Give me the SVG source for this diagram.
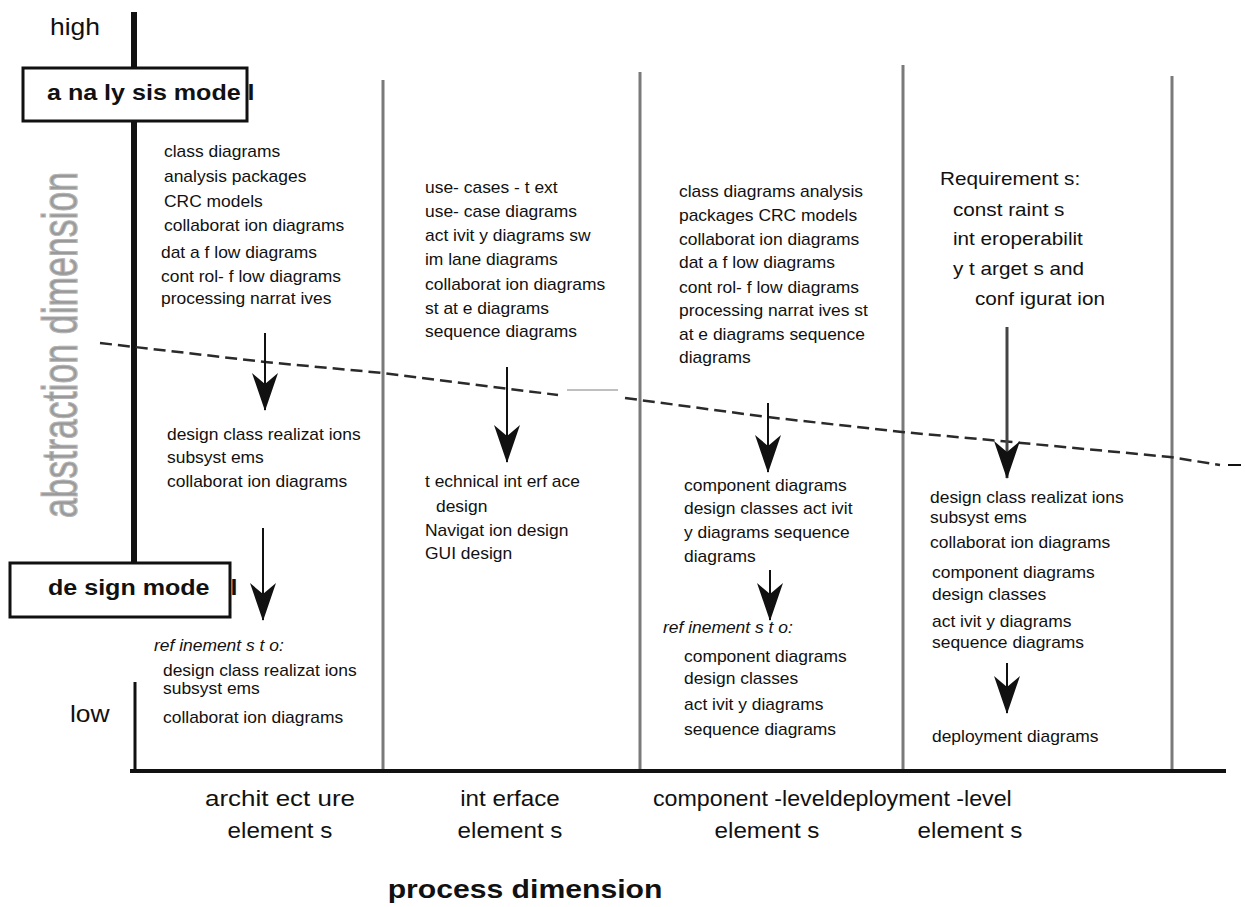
<svg xmlns="http://www.w3.org/2000/svg" width="1245" height="907" viewBox="0 0 1245 907">
<style>
  text { font-family: "Liberation Sans", Arial, sans-serif; fill: #111; }
  .sx { transform-box: fill-box; transform-origin: left center; transform: scaleX(1.09); }
  .cx { transform-box: fill-box; transform-origin: center; transform: scaleX(1.1); }
  .b { font-size: 16px; }
  .i { font-size: 16px; font-style: italic; }
  .r { font-size: 18px; transform-box: fill-box; transform-origin: left center; transform: scaleX(1.15); }
  .h { font-size: 22px; font-weight: bold; transform-box: fill-box; transform-origin: left center; transform: scaleX(1.14); }
  .lab { font-size: 22px; text-anchor: middle; }
  .ax { font-size: 23px; transform-box: fill-box; transform-origin: left center; transform: scaleX(1.15); }
  .col { stroke: #7a7a7a; stroke-width: 3; fill: none; }
  .box { fill: #fff; stroke: #111; stroke-width: 3; }
  .shaft { stroke: #111; stroke-width: 2; fill: none; marker-end: url(#ah); }
</style>
<defs>
  <marker id="ah" markerUnits="userSpaceOnUse" markerWidth="38" markerHeight="26" viewBox="0 0 38 26" refX="37" refY="13" orient="auto">
    <path d="M0,0 L38,13 L0,26 L11,13 Z" fill="#111"/>
  </marker>
</defs>
<rect width="1245" height="907" fill="#fff"/>

<g id="grid">
  <line class="col" x1="383" y1="80" x2="383" y2="771"/>
  <line class="col" x1="640" y1="72" x2="640" y2="771"/>
  <line class="col" x1="903" y1="65" x2="903" y2="771"/>
  <line class="col" x1="1172" y1="76" x2="1172" y2="771"/>
  <line x1="130" y1="771" x2="1226" y2="771" stroke="#111" stroke-width="4"/>
  <line x1="134" y1="12" x2="134" y2="567" stroke="#111" stroke-width="6"/>
  <line x1="135" y1="682" x2="135" y2="771" stroke="#111" stroke-width="3"/>
</g>

<g id="boundary">
  <path d="M100,343 L265,362 L383,373 L558,395 M625,398 L767,417 L902,432 L990,440 L1170,457 L1220,465" fill="none" stroke="#2a2a2a" stroke-width="2.5" stroke-dasharray="12 6"/>
  <line x1="567" y1="390" x2="618" y2="390" stroke="#aaa" stroke-width="1.5"/>
  <line x1="1228" y1="465" x2="1241" y2="465" stroke="#111" stroke-width="2"/>
</g>

<g id="axis-labels">
  <text class="ax" x="50" y="35">high</text>
  <text class="ax" x="70" y="722">low</text>
  <text transform="translate(77,518) rotate(-90)" font-size="50" style="fill:#999;stroke:#b5b5b5;stroke-width:1.2" textLength="346" lengthAdjust="spacingAndGlyphs">abstraction dimension</text>
  <text x="525" y="898" font-size="26" font-weight="bold" text-anchor="middle" style="transform-box:fill-box;transform-origin:center;transform:scaleX(1.16)">process dimension</text>
</g>

<g id="analysis-model">
  <rect class="box" x="23" y="68" width="224" height="53"/>
  <text class="h" x="47" y="100">a na ly sis mode l</text>
</g>

<g id="design-model">
  <rect class="box" x="10" y="563" width="220" height="54"/>
  <text class="h" x="48" y="595">de sign mode <tspan x="208">l</tspan></text>
</g>

<g id="architecture-column">
  <text class="b sx" x="164" y="157">class diagrams</text>
  <text class="b sx" x="164" y="182">analysis packages</text>
  <text class="b sx" x="164" y="207">CRC models</text>
  <text class="b sx" x="164" y="231">collaborat ion diagrams</text>
  <text class="b sx" x="161" y="258">dat a f low diagrams</text>
  <text class="b sx" x="161" y="282">cont rol- f low diagrams</text>
  <text class="b sx" x="161" y="304">processing narrat ives</text>
  <text class="b sx" x="167" y="440">design class realizat ions</text>
  <text class="b sx" x="167" y="463">subsyst ems</text>
  <text class="b sx" x="167" y="487">collaborat ion diagrams</text>
  <text class="i sx" x="154" y="651">ref inement s t o:</text>
  <text class="b sx" x="163" y="676">design class realizat ions</text>
  <text class="b sx" x="163" y="694">subsyst ems</text>
  <text class="b sx" x="163" y="723">collaborat ion diagrams</text>
  <text class="lab cx" x="280" y="806" style="transform:scaleX(1.18)">archit ect ure</text>
  <text class="lab cx" x="280" y="838">element s</text>
</g>

<g id="interface-column">
  <text class="b sx" x="425" y="193">use- cases - t ext</text>
  <text class="b sx" x="425" y="217">use- case diagrams</text>
  <text class="b sx" x="425" y="241">act ivit y diagrams sw</text>
  <text class="b sx" x="425" y="265">im lane diagrams</text>
  <text class="b sx" x="425" y="290">collaborat ion diagrams</text>
  <text class="b sx" x="425" y="314">st at e diagrams</text>
  <text class="b sx" x="425" y="337">sequence diagrams</text>
  <text class="b sx" x="425" y="487">t echnical int erf ace</text>
  <text class="b sx" x="436" y="512">design</text>
  <text class="b sx" x="425" y="536">Navigat ion design</text>
  <text class="b sx" x="425" y="559">GUI design</text>
  <text class="lab cx" x="510" y="806">int erface</text>
  <text class="lab cx" x="510" y="838">element s</text>
</g>

<g id="component-column">
  <text class="b sx" x="679" y="197">class diagrams analysis</text>
  <text class="b sx" x="679" y="221">packages CRC models</text>
  <text class="b sx" x="679" y="245">collaborat ion diagrams</text>
  <text class="b sx" x="679" y="268">dat a f low diagrams</text>
  <text class="b sx" x="679" y="293">cont rol- f low diagrams</text>
  <text class="b sx" x="679" y="316">processing narrat ives st</text>
  <text class="b sx" x="679" y="340">at e diagrams sequence</text>
  <text class="b sx" x="679" y="363">diagrams</text>
  <text class="b sx" x="684" y="491">component diagrams</text>
  <text class="b sx" x="684" y="514">design classes act ivit</text>
  <text class="b sx" x="684" y="538">y diagrams sequence</text>
  <text class="b sx" x="684" y="562">diagrams</text>
  <text class="i sx" x="663" y="633">ref inement s t o:</text>
  <text class="b sx" x="684" y="662">component diagrams</text>
  <text class="b sx" x="684" y="684">design classes</text>
  <text class="b sx" x="684" y="710">act ivit y diagrams</text>
  <text class="b sx" x="684" y="735">sequence diagrams</text>
  <text x="653" y="806" font-size="22" style="transform-box:fill-box;transform-origin:left center;transform:scaleX(1.056)">component -leveldeployment -level</text>
  <text class="lab cx" x="767" y="838">element s</text>
</g>

<g id="deployment-column">
  <text class="r" x="940" y="185">Requirement s:</text>
  <text class="r" x="953" y="216">const raint s</text>
  <text class="r" x="953" y="245">int eroperabilit</text>
  <text class="r" x="953" y="275">y t arget s and</text>
  <text class="r" x="975" y="305">conf igurat ion</text>
  <text class="b sx" x="930" y="503">design class realizat ions</text>
  <text class="b sx" x="930" y="523">subsyst ems</text>
  <text class="b sx" x="930" y="548">collaborat ion diagrams</text>
  <text class="b sx" x="932" y="578">component diagrams</text>
  <text class="b sx" x="932" y="600">design classes</text>
  <text class="b sx" x="932" y="627">act ivit y diagrams</text>
  <text class="b sx" x="932" y="648">sequence diagrams</text>
  <text class="b sx" x="932" y="742">deployment diagrams</text>
  <text class="lab cx" x="970" y="838">element s</text>
</g>

<g id="connectors">
  <line class="shaft" x1="265" y1="333" x2="265" y2="410"/>
  <line class="shaft" x1="263" y1="528" x2="263" y2="620"/>
  <line class="shaft" x1="507" y1="367" x2="507" y2="462"/>
  <line class="shaft" x1="768" y1="403" x2="768" y2="472"/>
  <line class="shaft" x1="770" y1="570" x2="770" y2="620"/>
  <line class="shaft" x1="1007" y1="327" x2="1007" y2="478" style="stroke:#444;stroke-width:3"/>
  <line class="shaft" x1="1007" y1="663" x2="1007" y2="713"/>
</g>
</svg>
